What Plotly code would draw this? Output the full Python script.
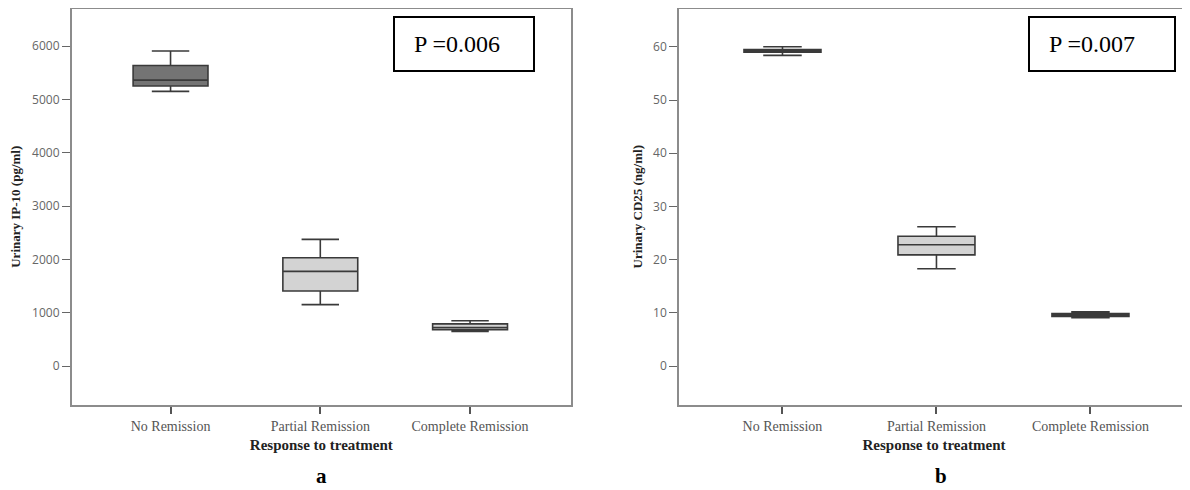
import plotly.graph_objects as go

# ---------------- data ----------------
categories = ["No Remission", "Partial Remission", "Complete Remission"]

ip10_lower = [5150, 1150, 650]
ip10_q1 = [5250, 1405, 680]
ip10_median = [5360, 1775, 720]
ip10_q3 = [5635, 2030, 790]
ip10_upper = [5905, 2375, 850]

cd25_lower = [58.4, 18.3, 9.1]
cd25_q1 = [59.0, 20.9, 9.35]
cd25_median = [59.2, 22.8, 9.6]
cd25_q3 = [59.5, 24.4, 9.9]
cd25_upper = [60.0, 26.2, 10.2]

ip10_ticks = [0, 1000, 2000, 3000, 4000, 5000, 6000]
cd25_ticks = [0, 10, 20, 30, 40, 50, 60]

p_values = ["P =0.006", "P =0.007"]
panel_labels = ["a", "b"]
y_titles = ["Urinary IP-10 (pg/ml)", "Urinary CD25 (ng/ml)"]
x_title = "Response to treatment"

# ---------------- styles ----------------
OFF = 8  # page body margin
W, H = 1190 - OFF, 490 - OFF
fills_a = ["#747474", "#d3d3d3", "#d3d3d3"]
fills_b = ["#9a9a9a", "#d3d3d3", "#d3d3d3"]
line_col = "#3a3a3a"
frame_col = "#8c8c8c"
serif = "Liberation Serif, Times New Roman, serif"
sans = "Open Sans, DejaVu Sans, sans-serif"


def px(x):
    return min(max((x - OFF) / W, 0), 1)


def py(y):
    return min(max(1 - (y - OFF) / H, 0), 1)


fig = go.Figure()


def add_boxes(xa, ya, lows, q1s, meds, q3s, ups, fills):
    for i, cat in enumerate(categories):
        fig.add_trace(go.Box(
            x=[cat], q1=[q1s[i]], median=[meds[i]], q3=[q3s[i]],
            lowerfence=[lows[i]], upperfence=[ups[i]],
            width=0.5, whiskerwidth=0.5,
            fillcolor=fills[i], line=dict(color=line_col, width=1.6),
            showlegend=False, xaxis=xa, yaxis=ya,
        ))


add_boxes("x", "y", ip10_lower, ip10_q1, ip10_median, ip10_q3, ip10_upper, fills_a)
add_boxes("x2", "y2", cd25_lower, cd25_q1, cd25_median, cd25_q3, cd25_upper, fills_b)

ydom = [py(405), py(8.5)]
xdom_a = [px(71.7), px(571)]
xdom_b = [px(679), px(1189)]


def xaxis_cfg(dom, rng):
    return dict(
        domain=dom, type="category", categoryorder="array", categoryarray=categories,
        range=rng, showline=True, mirror=True, linecolor=frame_col, linewidth=1.5,
        ticks="outside", ticklen=7, tickcolor="#555555", tickwidth=1.5,
        showgrid=False, zeroline=False,
        tickfont=dict(family=serif, size=14, color="#555555"),
        title=dict(text="<b>" + x_title + "</b>", standoff=7,
                   font=dict(family=serif, size=15, color="#222222")),
    )


def yaxis_cfg(anchor, rng, ticks, title, standoff):
    return dict(
        domain=ydom, anchor=anchor, range=rng, tickvals=ticks,
        ticktext=[str(t) for t in ticks],
        showline=True, mirror=True, linecolor=frame_col, linewidth=1.5,
        ticks="outside", ticklen=8, tickcolor="#666666", tickwidth=1.2,
        showgrid=False, zeroline=False,
        tickfont=dict(family=sans, size=12, color="#666666"),
        title=dict(text="<b>" + title + "</b>", standoff=standoff,
                   font=dict(family=serif, size=13, color="#222222")),
    )


fig.update_layout(
    width=W, height=H,
    margin=dict(l=0, r=0, t=0, b=0),
    paper_bgcolor="white", plot_bgcolor="white",
    boxmode="overlay",
    xaxis=dict(**xaxis_cfg(xdom_a, [-0.66, 2.674]), anchor="y"),
    yaxis=yaxis_cfg("x", [-731, 6703], ip10_ticks, y_titles[0], 10),
    xaxis2=dict(**xaxis_cfg(xdom_b, [-0.672, 2.64]), anchor="y2"),
    yaxis2=yaxis_cfg("x2", [-7.3, 67.2], cd25_ticks, y_titles[1], 8),
)

# P-value boxes
pboxes = [(394, 534, 17, 71), (1029, 1175, 17, 71)]
for (x0, x1, y0, y1), ptxt in zip(pboxes, p_values):
    fig.add_shape(type="rect", xref="paper", yref="paper",
                  x0=px(x0), x1=px(x1), y0=py(y1), y1=py(y0),
                  line=dict(color="black", width=2), fillcolor="white")
    fig.add_annotation(xref="paper", yref="paper",
                       x=px(x0 + 18), y=py((y0 + y1) / 2),
                       xanchor="left", yanchor="middle", showarrow=False,
                       text=ptxt, font=dict(family=serif, size=24, color="black"))

# panel labels
for xc, lab in zip([321, 941], panel_labels):
    fig.add_annotation(xref="paper", yref="paper", x=px(xc), y=py(476),
                       xanchor="center", yanchor="middle", showarrow=False,
                       text="<b>" + lab + "</b>",
                       font=dict(family=serif, size=21, color="black"))

fig.write_html("out.html")
